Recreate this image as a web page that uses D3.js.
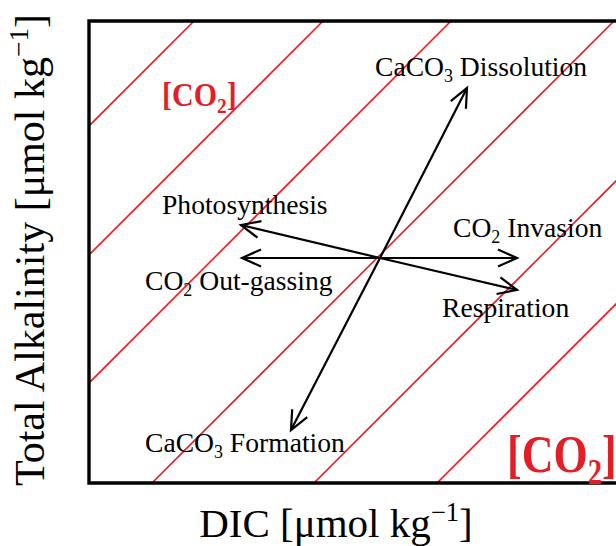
<!DOCTYPE html>
<html lang="en">
<head>
    <meta charset="UTF-8">
    <title>DIC vs Total Alkalinity</title>
    <script src="https://d3js.org/d3.v7.min.js"></script>
    <style>
        body { margin: 0; background: #fff; }
        svg { display: block; }
        text { font-family: "Liberation Serif", "Times New Roman", serif; }
    </style>
</head>
<body>
    <svg width="616" height="546"></svg>
    <script>
        // diagram units (no ticks in the original, schematic only)
        const dicDomain = [0, 540];
        const taDomain = [0, 462];

        // [CO2] isolines: TA = DIC + offset
        const isoOffsets = [357, 228, 100, -63, -225, -348];

        // process vectors, all starting at the same point
        const origin = [291, 225];
        const processes = ["CaCO3 Dissolution", "CaCO3 Formation", "Photosynthesis", "CO2 Out-gassing", "CO2 Invasion", "Respiration"];
        const dDIC = [87, -89, -139, -138, 137, 137];
        const dTA = [170, -172, 33, 0, 0, -32];

        const box = {left: 89, top: 21, right: 629, bottom: 483};

        const svg = d3.select("svg");
        const x = d3.scaleLinear().domain(dicDomain).range([box.left, box.right]);
        const y = d3.scaleLinear().domain(taDomain).range([box.bottom, box.top]);

        svg.append("defs").append("clipPath").attr("id", "plot")
            .append("rect")
            .attr("x", box.left).attr("y", box.top)
            .attr("width", box.right - box.left).attr("height", box.bottom - box.top);

        const marker = svg.select("defs").append("marker")
            .attr("id", "head")
            .attr("markerUnits", "userSpaceOnUse")
            .attr("viewBox", "-24 -14 28 28")
            .attr("markerWidth", 28).attr("markerHeight", 28)
            .attr("refX", 0).attr("refY", 0)
            .attr("orient", "auto");
        marker.append("path")
            .attr("d", "M-19,-8.5L0,0L-19,8.5")
            .attr("fill", "none")
            .attr("stroke", "#000")
            .attr("stroke-width", 2.2);

        // isolines
        const line = d3.line().x(d => x(d[0])).y(d => y(d[1]));
        svg.append("g").attr("clip-path", "url(#plot)")
            .selectAll("path")
            .data(isoOffsets)
            .join("path")
            .attr("d", b => line([[-600, -600 + b], [1200, 1200 + b]]))
            .attr("stroke", "#ee1d24")
            .attr("stroke-width", 1.6)
            .attr("fill", "none");

        // frame
        svg.append("path")
            .attr("d", `M${box.right},${box.top}H${box.left}V${box.bottom}H${box.right}`)
            .attr("fill", "none")
            .attr("stroke", "#000")
            .attr("stroke-width", 3.4);

        // arrows
        svg.append("g").selectAll("line")
            .data(processes)
            .join("line")
            .attr("x1", x(origin[0]))
            .attr("y1", y(origin[1]))
            .attr("x2", (d, i) => x(origin[0] + dDIC[i]))
            .attr("y2", (d, i) => y(origin[1] + dTA[i]))
            .attr("stroke", "#000")
            .attr("stroke-width", 2.2)
            .attr("marker-end", "url(#head)");

        function label(parts, px, py, size, opts = {}) {
            const t = svg.append("text")
                .attr("font-size", size)
                .attr("fill", opts.fill || "#000")
                .attr("font-weight", opts.bold ? "bold" : "normal")
                .attr("transform", `translate(${px},${py}) scale(1,${opts.sy || 1})`);
            parts.forEach(p => {
                const s = t.append("tspan").text(p.t);
                if (p.sub) {
                    s.attr("font-size", size * 0.65).attr("dy", size * 0.22);
                } else if (p.sup) {
                    s.attr("font-size", size * 0.65).attr("dy", -size * 0.38);
                } else if (p.back) {
                    s.attr("dy", p.back);
                }
            });
            return t;
        }

        const fs = 27.6;
        label([{t: "CaCO"}, {t: "3", sub: true}, {t: " Dissolution", back: -fs * 0.22}], 375, 76, fs);
        label([{t: "Photosynthesis"}], 162, 214, fs);
        label([{t: "CO"}, {t: "2", sub: true}, {t: " Out-gassing", back: -fs * 0.22}], 145, 290, fs);
        label([{t: "CO"}, {t: "2", sub: true}, {t: " Invasion", back: -fs * 0.22}], 453, 237, fs);
        label([{t: "Respiration"}], 442, 317, fs);
        label([{t: "CaCO"}, {t: "3", sub: true}, {t: " Formation", back: -fs * 0.22}], 145, 452, fs);

        label([{t: "[CO"}, {t: "2", sub: true}, {t: "]", back: -30 * 0.22}], 162, 106, 30, {fill: "#e41e26", bold: true, sy: 1.1});
        label([{t: "[CO"}, {t: "2", sub: true}, {t: "]", back: -44 * 0.22}], 507, 472, 44, {fill: "#e41e26", bold: true, sy: 1.22});

        // axis titles
        const at = 41;
        label([{t: "DIC [μmol kg"}, {t: "−1", sup: true}, {t: "]", back: at * 0.38}], 336, 537, at)
            .attr("text-anchor", "middle");
        label([{t: "Total Alkalinity [μmol kg"}, {t: "−1", sup: true}, {t: "]", back: at * 0.38}], 0, 0, 42)
            .attr("text-anchor", "middle")
            .attr("transform", "translate(44,250) rotate(-90)");
    </script>
</body>
</html>
